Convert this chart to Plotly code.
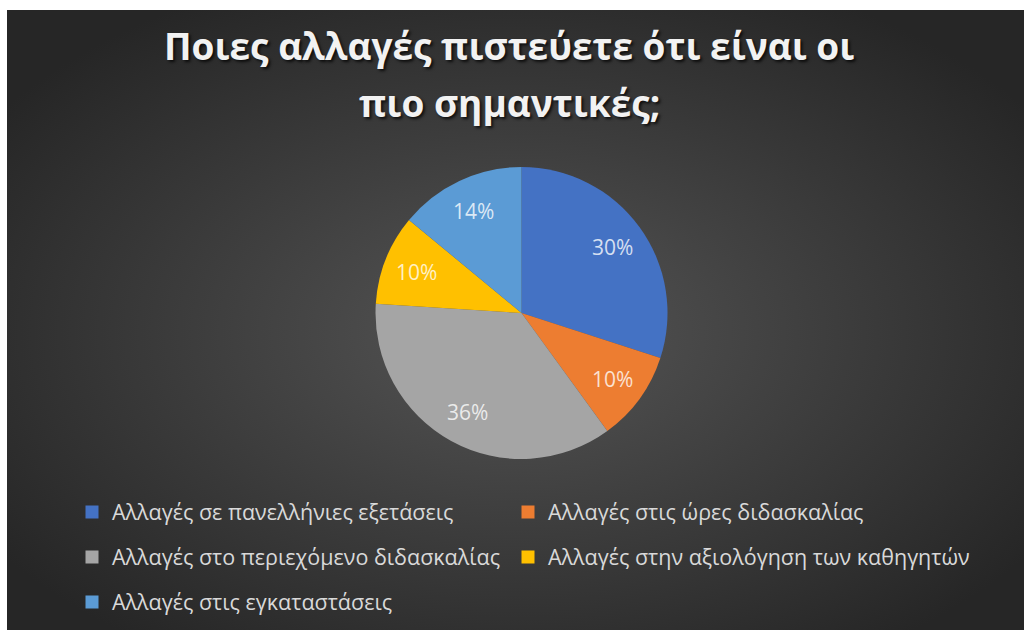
import base64
import math
import plotly.graph_objects as go

# Survey answers: share of each proposed change
categories = [
    "Αλλαγές σε πανελλήνιες εξετάσεις",
    "Αλλαγές στις ώρες διδασκαλίας",
    "Αλλαγές στο περιεχόμενο διδασκαλίας",
    "Αλλαγές στην αξιολόγηση των καθηγητών",
    "Αλλαγές στις εγκαταστάσεις",
]
shares = [30, 10, 36, 10, 14]
colors = ["#4472C4", "#ED7D31", "#A5A5A5", "#FFC000", "#5B9BD5"]
title_lines = ["Ποιες αλλαγές πιστεύετε ότι είναι οι", "πιο σημαντικές;"]

W, H = 1024, 630
# dark chart area (a thin white strip stays on the top and left edges)
AX0, AY0 = 7, 10

# radial gradient background as an inline SVG image
svg = f"""<svg xmlns='http://www.w3.org/2000/svg' width='{W-AX0}' height='{H-AY0}'>
<defs><radialGradient id='g' cx='50%' cy='52%' r='62%'>
<stop offset='0%' stop-color='#555555'/>
<stop offset='100%' stop-color='#262626'/>
</radialGradient></defs>
<rect width='100%' height='100%' fill='url(#g)'/></svg>"""
bg_src = "data:image/svg+xml;base64," + base64.b64encode(svg.encode("utf-8")).decode("ascii")

fig = go.Figure()

# pie geometry in pixels
cx, cy, R = 521.5, 313, 146
fig.add_trace(go.Pie(
    labels=categories,
    values=shares,
    sort=False,
    direction="clockwise",
    rotation=0,
    marker=dict(colors=colors, line=dict(width=0)),
    textinfo="none",
    domain=dict(x=[(cx - R) / W, (cx + R) / W], y=[(H - cy - R) / H, (H - cy + R) / H]),
    showlegend=False,
    hoverinfo="label+percent",
))

# percentage labels placed on each slice's bisector, clockwise from 12 o'clock
total = sum(shares)
label_font = dict(family="Open Sans", size=21, color="rgba(255,255,255,0.78)")
annotations = []
cum = 0
for v in shares:
    mid = (cum + v / 2) / total * 2 * math.pi
    cum += v
    r = 0.77 * R
    px = cx + r * math.sin(mid)
    py = cy - r * math.cos(mid)
    annotations.append(dict(
        text=f"{round(100 * v / total)}%", x=px / W, y=1 - py / H,
        xref="paper", yref="paper", xanchor="center", yanchor="middle",
        showarrow=False, font=label_font,
    ))

# legend entries: one legend box per entry, laid out in two columns
legend_pos = [(72, 512), (508, 512), (72, 557), (508, 557), (72, 602)]
legend_font = dict(family="Open Sans", size=21.5, color="#d9d9d9")
layout_legends = {}
for i, (lab, col, (lx, ly)) in enumerate(zip(categories, colors, legend_pos)):
    key = "legend" if i == 0 else f"legend{i + 1}"
    fig.add_trace(go.Scatter(
        x=[None], y=[None], mode="markers",
        marker=dict(symbol="square", size=13, color=col),
        name=lab, legend=key, showlegend=True, hoverinfo="skip",
    ))
    layout_legends[key] = dict(
        x=lx / W, xanchor="left", y=1 - ly / H, yanchor="middle",
        bgcolor="rgba(0,0,0,0)", borderwidth=0, font=legend_font,
        itemclick=False, itemdoubleclick=False,
    )

title_font = dict(family="Open Sans", size=37, color="#f2f2f2", weight="bold",
                  shadow="2px 2px 3px rgba(0,0,0,0.75)")
annotations += [
    dict(text=title_lines[0], x=509 / W, y=1 - 46 / H, xref="paper", yref="paper",
         xanchor="center", yanchor="middle", showarrow=False, font=title_font),
    dict(text=title_lines[1], x=509 / W, y=1 - 103 / H, xref="paper", yref="paper",
         xanchor="center", yanchor="middle", showarrow=False, font=title_font),
]

fig.update_layout(
    width=W, height=H,
    margin=dict(l=0, r=0, t=0, b=0),
    paper_bgcolor="white",
    plot_bgcolor="rgba(0,0,0,0)",
    xaxis=dict(visible=False),
    yaxis=dict(visible=False),
    images=[dict(source=bg_src, xref="paper", yref="paper",
                 x=AX0 / W, y=1 - AY0 / H, sizex=(W - AX0) / W, sizey=(H - AY0) / H,
                 xanchor="left", yanchor="top", sizing="stretch", layer="below")],
    annotations=annotations,
    **layout_legends,
)

fig.write_html("out.html", config={"displayModeBar": False})
